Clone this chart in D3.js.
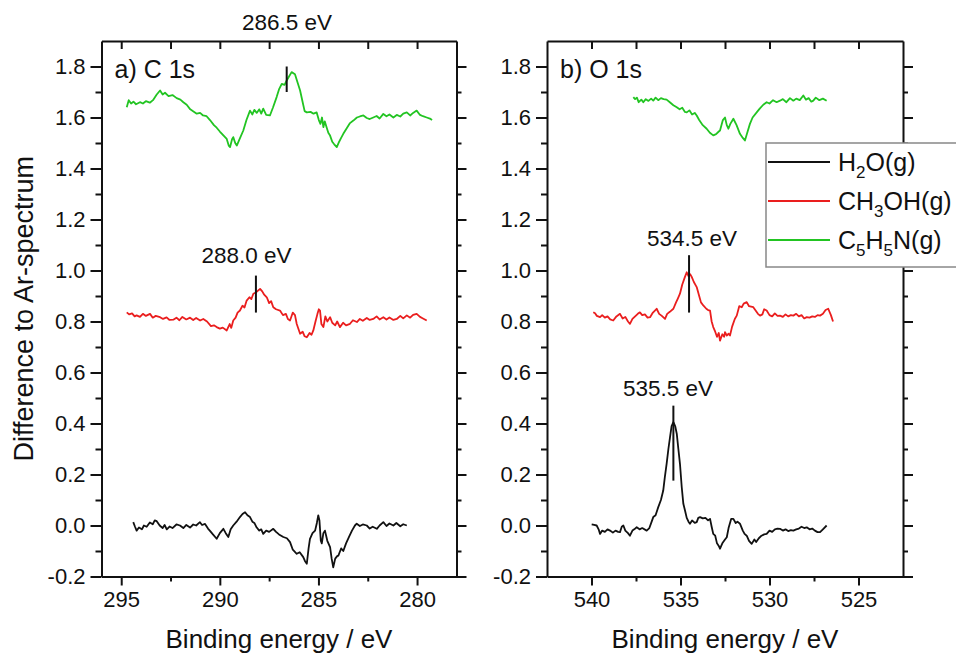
<!DOCTYPE html>
<html>
<head>
<meta charset="utf-8">
<script src="https://cdn.jsdelivr.net/npm/d3@7"></script>
<style>
  body { margin: 0; background: #fff; }
  svg { font-family: "Liberation Sans", Arial, sans-serif; }
</style>
</head>
<body>
<svg id="chart" width="956" height="659"></svg>
<script>
// ---- data: [binding energy (eV), difference] ----
const c1sWater = [[294.39,0.013],[294.30,-0.005],[294.22,-0.020],[294.10,-0.008],[293.95,-0.015],[293.85,0.000],[293.71,-0.005],[293.55,0.012],[293.40,0.005],[293.30,0.020],[293.20,0.017],[293.05,0.000],[292.90,-0.010],[292.80,0.002],[292.69,-0.015],[292.55,-0.004],[292.40,-0.010],[292.20,0.004],[292.02,0.000],[291.85,-0.010],[291.70,0.002],[291.51,-0.008],[291.35,0.004],[291.20,0.000],[291.01,0.013],[290.90,0.002],[290.75,0.006],[290.60,-0.012],[290.51,-0.020],[290.35,-0.035],[290.16,-0.052],[290.00,-0.030],[289.82,-0.013],[289.70,-0.030],[289.57,-0.045],[289.45,-0.015],[289.32,0.000],[289.15,0.015],[288.98,0.033],[288.85,0.045],[288.72,0.052],[288.60,0.040],[288.47,0.033],[288.35,0.015],[288.25,0.010],[288.13,-0.008],[288.00,-0.020],[287.90,-0.015],[287.80,-0.033],[287.65,-0.020],[287.50,-0.025],[287.29,-0.013],[287.15,-0.025],[287.00,-0.035],[286.78,-0.045],[286.60,-0.050],[286.44,-0.065],[286.30,-0.095],[286.10,-0.111],[285.95,-0.105],[285.77,-0.124],[285.68,-0.140],[285.59,-0.150],[285.50,-0.090],[285.43,-0.052],[285.30,-0.030],[285.17,-0.020],[285.08,0.010],[285.01,0.040],[284.95,0.020],[284.88,-0.060],[284.83,-0.070],[284.75,-0.030],[284.67,-0.020],[284.55,-0.060],[284.41,-0.085],[284.33,-0.130],[284.25,-0.164],[284.15,-0.130],[284.05,-0.120],[283.99,-0.118],[283.85,-0.090],[283.74,-0.100],[283.60,-0.070],[283.45,-0.045],[283.30,-0.020],[283.15,0.000],[283.06,0.007],[282.90,-0.002],[282.75,0.004],[282.55,0.000],[282.40,-0.012],[282.25,-0.005],[282.04,-0.013],[281.90,0.000],[281.71,0.013],[281.55,-0.002],[281.40,0.008],[281.20,0.000],[281.05,0.010],[280.85,-0.003],[280.70,0.005],[280.52,0.000]];

const c1sMethanol = [[294.72,0.836],[294.60,0.828],[294.45,0.832],[294.32,0.820],[294.22,0.824],[294.05,0.818],[293.90,0.830],[293.75,0.822],[293.54,0.830],[293.40,0.815],[293.25,0.822],[293.03,0.817],[292.88,0.810],[292.70,0.816],[292.55,0.806],[292.36,0.807],[292.20,0.815],[292.05,0.805],[291.90,0.818],[291.70,0.808],[291.51,0.815],[291.35,0.806],[291.20,0.814],[291.00,0.804],[290.84,0.810],[290.65,0.800],[290.45,0.782],[290.30,0.785],[290.16,0.778],[290.00,0.772],[289.85,0.776],[289.65,0.765],[289.50,0.790],[289.42,0.775],[289.32,0.804],[289.20,0.815],[289.10,0.835],[288.98,0.843],[288.85,0.862],[288.75,0.855],[288.64,0.882],[288.50,0.895],[288.40,0.888],[288.30,0.909],[288.15,0.915],[288.05,0.922],[287.96,0.928],[287.85,0.918],[287.75,0.905],[287.62,0.895],[287.50,0.872],[287.40,0.880],[287.29,0.856],[287.15,0.848],[286.95,0.843],[286.80,0.825],[286.65,0.830],[286.55,0.810],[286.44,0.804],[286.30,0.835],[286.19,0.825],[286.10,0.790],[285.93,0.752],[285.80,0.760],[285.70,0.742],[285.59,0.738],[285.45,0.755],[285.35,0.748],[285.26,0.765],[285.15,0.800],[285.05,0.830],[284.98,0.848],[284.92,0.843],[284.85,0.790],[284.75,0.778],[284.65,0.820],[284.55,0.800],[284.41,0.817],[284.30,0.795],[284.15,0.785],[284.05,0.800],[283.91,0.778],[283.75,0.795],[283.60,0.785],[283.40,0.791],[283.25,0.805],[283.05,0.798],[282.90,0.810],[282.75,0.803],[282.55,0.814],[282.40,0.806],[282.22,0.810],[282.05,0.820],[281.90,0.808],[281.71,0.817],[281.55,0.808],[281.40,0.816],[281.20,0.806],[281.03,0.810],[280.85,0.822],[280.70,0.812],[280.52,0.824],[280.35,0.815],[280.20,0.826],[280.02,0.830],[279.85,0.818],[279.70,0.812],[279.51,0.804]];

const c1sPyridine = [[294.72,1.640],[294.62,1.668],[294.50,1.655],[294.38,1.662],[294.25,1.652],[294.05,1.660],[293.90,1.655],[293.75,1.664],[293.55,1.658],[293.39,1.668],[293.20,1.690],[293.03,1.706],[292.90,1.690],[292.78,1.697],[292.60,1.684],[292.40,1.688],[292.19,1.676],[292.00,1.670],[291.85,1.660],[291.68,1.650],[291.50,1.632],[291.30,1.622],[291.17,1.615],[291.00,1.618],[290.85,1.608],[290.67,1.605],[290.50,1.590],[290.30,1.570],[290.16,1.560],[290.00,1.545],[289.82,1.530],[289.65,1.516],[289.55,1.490],[289.48,1.484],[289.38,1.515],[289.32,1.523],[289.22,1.500],[289.14,1.490],[289.00,1.515],[288.81,1.549],[288.65,1.590],[288.47,1.627],[288.35,1.612],[288.25,1.630],[288.13,1.618],[288.00,1.632],[287.90,1.615],[287.80,1.635],[287.65,1.610],[287.46,1.608],[287.30,1.640],[287.12,1.680],[287.00,1.710],[286.86,1.732],[286.72,1.728],[286.61,1.745],[286.50,1.760],[286.36,1.778],[286.19,1.770],[286.05,1.735],[285.93,1.706],[285.80,1.660],[285.70,1.625],[285.59,1.620],[285.40,1.622],[285.25,1.615],[285.09,1.620],[284.98,1.590],[284.90,1.575],[284.82,1.600],[284.75,1.562],[284.68,1.585],[284.58,1.560],[284.50,1.540],[284.41,1.529],[284.30,1.505],[284.20,1.495],[284.07,1.484],[283.95,1.505],[283.85,1.520],[283.74,1.536],[283.55,1.560],[283.40,1.578],[283.23,1.588],[283.05,1.600],[282.90,1.604],[282.72,1.608],[282.55,1.598],[282.40,1.594],[282.22,1.600],[282.05,1.606],[281.90,1.596],[281.71,1.614],[281.55,1.605],[281.40,1.612],[281.20,1.600],[281.03,1.610],[280.85,1.604],[280.70,1.615],[280.52,1.620],[280.35,1.608],[280.20,1.618],[280.02,1.627],[279.85,1.610],[279.70,1.605],[279.51,1.600],[279.35,1.596],[279.24,1.590]];

const o1sWater = [[539.99,0.004],[539.85,0.002],[539.71,0.000],[539.60,-0.015],[539.52,-0.033],[539.40,-0.020],[539.25,-0.025],[539.10,-0.015],[538.96,-0.020],[538.80,-0.028],[538.65,-0.020],[538.50,-0.025],[538.40,-0.026],[538.30,-0.005],[538.21,0.000],[538.10,-0.020],[537.95,-0.030],[537.84,-0.040],[537.70,-0.020],[537.60,-0.015],[537.46,-0.007],[537.30,-0.015],[537.15,-0.010],[536.90,-0.020],[536.75,-0.010],[536.62,0.015],[536.53,0.033],[536.40,0.040],[536.25,0.072],[536.10,0.100],[535.97,0.137],[535.88,0.190],[535.78,0.242],[535.68,0.300],[535.59,0.346],[535.50,0.390],[535.40,0.405],[535.30,0.390],[535.21,0.360],[535.12,0.300],[535.03,0.242],[534.93,0.150],[534.84,0.085],[534.75,0.060],[534.65,0.030],[534.55,0.015],[534.47,0.007],[534.35,0.020],[534.20,0.010],[534.09,0.013],[534.00,0.030],[533.90,0.033],[533.75,0.028],[533.60,0.030],[533.45,0.020],[533.34,0.026],[533.25,-0.005],[533.16,-0.033],[533.05,-0.040],[532.95,-0.070],[532.85,-0.080],[532.78,-0.091],[532.65,-0.070],[532.50,-0.055],[532.40,-0.046],[532.30,-0.010],[532.15,0.026],[532.03,0.026],[531.90,0.010],[531.80,0.015],[531.66,0.007],[531.50,-0.020],[531.40,-0.033],[531.28,-0.040],[531.15,-0.060],[531.00,-0.072],[530.85,-0.055],[530.75,-0.065],[530.60,-0.050],[530.45,-0.040],[530.30,-0.035],[530.16,-0.033],[530.00,-0.020],[529.85,-0.025],[529.70,-0.015],[529.55,-0.012],[529.41,-0.013],[529.25,-0.020],[529.10,-0.015],[528.95,-0.022],[528.80,-0.018],[528.66,-0.020],[528.50,-0.015],[528.35,-0.012],[528.20,-0.005],[528.05,-0.010],[527.91,-0.007],[527.75,-0.015],[527.60,-0.012],[527.45,-0.020],[527.30,-0.026],[527.16,-0.026],[527.00,-0.015],[526.79,0.000]];

const o1sMethanol = [[539.90,0.836],[539.80,0.832],[539.70,0.822],[539.52,0.817],[539.40,0.825],[539.25,0.815],[539.10,0.820],[538.95,0.808],[538.78,0.804],[538.60,0.820],[538.40,0.830],[538.25,0.812],[538.10,0.818],[537.95,0.800],[537.84,0.791],[537.70,0.810],[537.55,0.820],[537.40,0.830],[537.28,0.836],[537.15,0.825],[537.00,0.828],[536.85,0.815],[536.71,0.817],[536.55,0.835],[536.45,0.842],[536.34,0.850],[536.20,0.830],[536.05,0.822],[535.87,0.810],[535.75,0.830],[535.60,0.838],[535.40,0.850],[535.25,0.875],[535.15,0.890],[535.03,0.909],[534.90,0.945],[534.75,0.975],[534.65,0.993],[534.55,0.978],[534.45,0.985],[534.37,0.975],[534.25,0.955],[534.09,0.935],[533.95,0.900],[533.85,0.875],[533.72,0.863],[533.55,0.850],[533.45,0.845],[533.34,0.843],[533.25,0.800],[533.16,0.778],[533.05,0.760],[532.95,0.740],[532.85,0.755],[532.78,0.725],[532.65,0.750],[532.55,0.740],[532.50,0.758],[532.40,0.745],[532.30,0.752],[532.22,0.745],[532.10,0.780],[531.95,0.810],[531.84,0.823],[531.70,0.860],[531.56,0.856],[531.45,0.870],[531.28,0.876],[531.15,0.860],[530.91,0.856],[530.75,0.840],[530.65,0.830],[530.53,0.823],[530.40,0.828],[530.30,0.848],[530.16,0.843],[530.00,0.825],[529.85,0.820],[529.70,0.832],[529.55,0.822],[529.41,0.823],[529.25,0.818],[529.10,0.828],[528.95,0.820],[528.80,0.825],[528.66,0.823],[528.50,0.830],[528.35,0.820],[528.20,0.825],[528.05,0.812],[527.91,0.817],[527.75,0.815],[527.60,0.820],[527.45,0.818],[527.30,0.825],[527.16,0.823],[527.00,0.830],[526.85,0.845],[526.70,0.850],[526.55,0.825],[526.43,0.800]];

const o1sPyridine = [[537.65,1.680],[537.55,1.672],[537.45,1.678],[537.35,1.660],[537.20,1.670],[537.09,1.660],[536.95,1.672],[536.80,1.665],[536.65,1.674],[536.53,1.666],[536.40,1.678],[536.25,1.668],[536.10,1.676],[535.95,1.672],[535.78,1.670],[535.60,1.660],[535.40,1.648],[535.21,1.640],[535.05,1.632],[534.90,1.638],[534.75,1.622],[534.65,1.620],[534.50,1.628],[534.35,1.612],[534.20,1.618],[534.09,1.608],[533.95,1.590],[533.75,1.570],[533.53,1.556],[533.35,1.540],[533.16,1.530],[533.00,1.535],[532.85,1.545],[532.78,1.549],[532.62,1.590],[532.50,1.600],[532.40,1.570],[532.31,1.556],[532.20,1.575],[532.03,1.595],[531.85,1.570],[531.66,1.536],[531.50,1.520],[531.38,1.510],[531.25,1.540],[531.10,1.575],[530.95,1.600],[530.72,1.620],[530.55,1.635],[530.35,1.650],[530.16,1.660],[530.00,1.655],[529.80,1.668],[529.60,1.660],[529.41,1.666],[529.25,1.672],[529.05,1.660],[528.85,1.676],[528.66,1.666],[528.50,1.674],[528.30,1.668],[528.10,1.686],[527.95,1.670],[527.80,1.676],[527.65,1.662],[527.54,1.666],[527.40,1.678],[527.20,1.668],[527.00,1.674],[526.79,1.666]];

// peak markers and their labels (data coordinates)
const c1sMarks = [{e: 286.61, lo: 1.70, hi: 1.80}, {e: 288.17, lo: 0.835, hi: 0.98}];
const c1sNotes = [{text: "286.5 eV", e: 286.59, v: 1.943}, {text: "288.0 eV", e: 288.65, v: 1.029}];
const o1sMarks = [{e: 534.52, lo: 0.835, hi: 1.06}, {e: 535.40, lo: 0.176, hi: 0.47}];
const o1sNotes = [{text: "534.5 eV", e: 534.35, v: 1.096}, {text: "535.5 eV", e: 535.70, v: 0.508}];

const yTicks = [-0.2, 0.0, 0.2, 0.4, 0.6, 0.8, 1.0, 1.2, 1.4, 1.6, 1.8];
const yMinor = [-0.1, 0.1, 0.3, 0.5, 0.7, 0.9, 1.1, 1.3, 1.5, 1.7];
const c1sTicks = [295, 290, 285, 280];
const c1sMinor = [292.5, 287.5, 282.5];
const o1sTicks = [540, 535, 530, 525];
const o1sMinor = [537.5, 532.5, 527.5];

const seriesNames = ["H2O(g)", "CH3OH(g)", "C5H5N(g)"];
const colors = ["#111111", "#ea1e1e", "#22c422"];

const svg = d3.select("#chart");
const width = svg.node().clientWidth;
const height = svg.node().clientHeight;
svg.append("rect").attr("width", width).attr("height", height).attr("fill", "#fff");

const plotTop = 41, plotBottom = 576.5;
const y = d3.scaleLinear().domain([-0.2, 1.9]).range([plotBottom, plotTop]);
const fmt = d => d3.format(".1f")(d).replace("\u2212", "-");

function drawPanel(cfg) {
  const x = d3.scaleLinear().domain(cfg.domain).range([cfg.left, cfg.right]);
  const g = svg.append("g");

  // curves
  const line = d3.line().x(d => x(d[0])).y(d => y(d[1]));
  cfg.series.forEach((s, i) => {
    g.append("path").datum(s)
      .attr("d", line)
      .attr("fill", "none")
      .attr("stroke", colors[i])
      .attr("stroke-width", 1.8)
      .attr("stroke-linejoin", "round");
  });

  // markers
  g.selectAll(".mark").data(cfg.marks).enter().append("line")
    .attr("x1", d => x(d.e)).attr("x2", d => x(d.e))
    .attr("y1", d => y(d.lo)).attr("y2", d => y(d.hi))
    .attr("stroke", "#111").attr("stroke-width", 2);
  g.selectAll(".note").data(cfg.notes).enter().append("text")
    .attr("x", d => x(d.e)).attr("y", d => y(d.v))
    .attr("text-anchor", "middle")
    .attr("font-size", 22.5).attr("fill", "#111")
    .text(d => d.text);

  // axes
  const style = sel => {
    sel.select(".domain").attr("stroke-width", 2).attr("stroke", "#111");
    sel.selectAll(".tick line").attr("stroke-width", 2).attr("stroke", "#111");
    sel.selectAll("text").attr("font-size", 22).attr("fill", "#111")
      .attr("font-family", "Liberation Sans, Arial, sans-serif");
  };

  g.append("g").attr("transform", `translate(0,${plotBottom})`)
    .call(d3.axisBottom(x).tickValues(cfg.ticks).tickSizeInner(9).tickSizeOuter(0).tickPadding(6).tickFormat(d3.format("d")))
    .call(style);
  g.append("g").attr("transform", `translate(0,${plotBottom})`)
    .call(d3.axisBottom(x).tickValues(cfg.minor).tickSize(5).tickFormat(""))
    .call(style).call(s => s.select(".domain").remove());
  g.append("g").attr("transform", `translate(0,${plotTop})`)
    .call(d3.axisTop(x).tickValues(cfg.ticks.concat(cfg.minor)).tickSizeInner(-8).tickSizeOuter(0).tickFormat(""))
    .call(style);

  g.append("g").attr("transform", `translate(${cfg.left},0)`)
    .call(d3.axisLeft(y).tickValues(yTicks).tickSizeInner(11).tickSizeOuter(0).tickPadding(5).tickFormat(fmt))
    .call(style);
  g.append("g").attr("transform", `translate(${cfg.left},0)`)
    .call(d3.axisLeft(y).tickValues(yMinor).tickSize(6).tickFormat(""))
    .call(style).call(s => s.select(".domain").remove());
  g.append("g").attr("transform", `translate(${cfg.right},0)`)
    .call(d3.axisRight(y).tickValues(yTicks).tickSizeInner(10).tickSizeOuter(0).tickFormat(""))
    .call(style);
  g.append("g").attr("transform", `translate(${cfg.right},0)`)
    .call(d3.axisRight(y).tickValues(yMinor).tickSize(5).tickFormat(""))
    .call(style).call(s => s.select(".domain").remove());

  // panel label
  g.append("text").attr("x", cfg.left + 13).attr("y", 78)
    .attr("font-size", 25).attr("fill", "#111").text(cfg.label);

  // x title
  g.append("text").attr("x", (cfg.left + cfg.right) / 2).attr("y", 648)
    .attr("text-anchor", "middle").attr("font-size", 26).attr("fill", "#111")
    .text("Binding energy / eV");
}

drawPanel({domain: [296, 278], left: 101.5, right: 456.5, ticks: c1sTicks, minor: c1sMinor,
  series: [c1sWater, c1sMethanol, c1sPyridine], marks: c1sMarks, notes: c1sNotes, label: "a) C 1s"});
drawPanel({domain: [542.5, 522.5], left: 547, right: 903, ticks: o1sTicks, minor: o1sMinor,
  series: [o1sWater, o1sMethanol, o1sPyridine], marks: o1sMarks, notes: o1sNotes, label: "b) O 1s"});

// y title
svg.append("text")
  .attr("transform", `translate(33,${(plotTop + plotBottom) / 2}) rotate(-90)`)
  .attr("text-anchor", "middle").attr("font-size", 27).attr("fill", "#111")
  .text("Difference to Ar-spectrum");

// legend
const legend = svg.append("g");
legend.append("rect").attr("x", 766).attr("y", 143).attr("width", 230).attr("height", 124)
  .attr("fill", "#fff").attr("stroke", "#888").attr("stroke-width", 1.5);
const rows = [
  [["H", 0], ["2", 1], ["O(g)", 0]],
  [["CH", 0], ["3", 1], ["OH(g)", 0]],
  [["C", 0], ["5", 1], ["H", 0], ["5", 1], ["N(g)", 0]]
];
seriesNames.forEach((name, i) => {
  const cy = 162 + i * 39;
  legend.append("line").attr("x1", 768).attr("x2", 830).attr("y1", cy).attr("y2", cy)
    .attr("stroke", colors[i]).attr("stroke-width", 1.8);
  const t = legend.append("text").attr("x", 838).attr("y", cy + 9)
    .attr("font-size", 25).attr("fill", "#111");
  let prev = 0;
  rows[i].forEach(([s, sub]) => {
    t.append("tspan").attr("dy", (sub - prev) * 7).attr("font-size", sub ? 17 : 25).text(s);
    prev = sub;
  });
});
</script>
</body>
</html>
